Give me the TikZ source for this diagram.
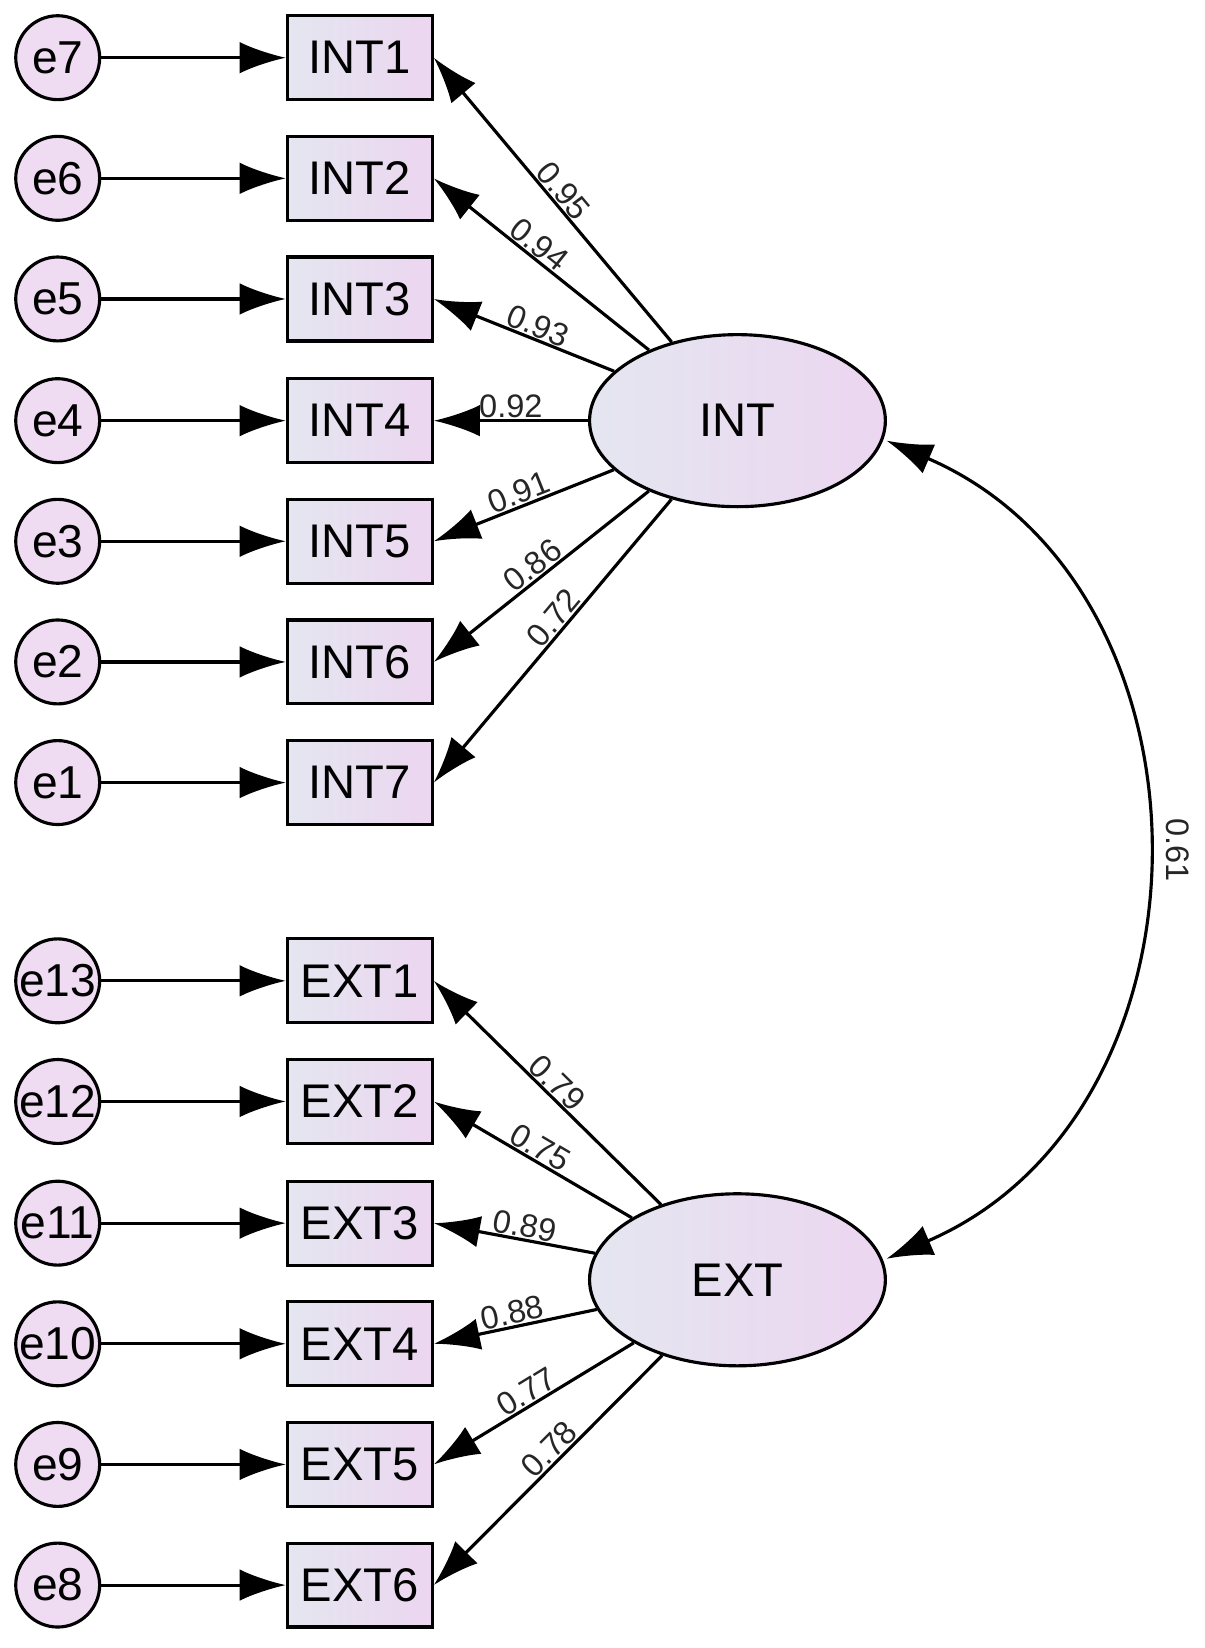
\documentclass[tikz,border=0pt]{standalone}
\usepackage{fontspec}
\setmainfont{Liberation Sans}
\usetikzlibrary{arrows.meta,shapes.geometric}
\definecolor{lgrey}{RGB}{228,230,240}
\definecolor{lvio}{RGB}{236,214,240}
\begin{document}
\begin{tikzpicture}[x=1pt,y=-1pt,
  err/.style={circle,draw,line width=3pt,fill=lvio!85!white,minimum size=80pt,inner sep=0pt,font=\fontsize{44}{46}\selectfont},
  obs/.style={rectangle,draw,line width=3pt,left color=lgrey,right color=lvio,minimum width=138pt,minimum height=80pt,inner sep=0pt,font=\fontsize{45}{47}\selectfont},
  lat/.style={ellipse,draw,line width=3pt,left color=lgrey,right color=lvio,minimum width=282pt,minimum height=164pt,inner sep=0pt,font=\fontsize{45}{47}\selectfont},
  arr/.style={line width=3pt,-{Latex[length=44pt,width=30pt]}},
  lab/.style={font=\fontsize{31}{33}\selectfont,text=black!85,sloped,above,inner sep=1pt}]
\useasboundingbox (0,0) rectangle (1148,1571);
\foreach \i/\y in {1/55,2/170,3/285,4/401,5/516,6/631,7/746}{
  \pgfmathtruncatemacro\e{8-\i}
  \node[obs] (INT\i) at (343,\y) {INT\i};
  \node[err] (e\e) at (55,\y) {e\e};
  \draw[arr] (e\e) -- (INT\i);
}
\foreach \i/\y in {1/935,2/1050,3/1166,4/1281,5/1396,6/1511}{
  \pgfmathtruncatemacro\e{14-\i}
  \node[obs] (EXT\i) at (343,\y) {EXT\i};
  \node[err] (e\e) at (55,\y) {e\e};
  \draw[arr] (e\e) -- (EXT\i);
}
\node[lat] (INT) at (703,401) {INT};
\node[lat] (EXT) at (703,1220) {EXT};
\foreach \i/\v/\p in {1/0.95/0.5,2/0.94/0.55,3/0.93/0.45,4/0.92/0.5,5/0.91/0.5,6/0.86/0.5,7/0.72/0.45}{
  \draw[arr] (INT) -- node[lab,pos=\p]{\v} (INT\i.east);
}
\foreach \i/\v/\p in {1/0.79/0.5,2/0.75/0.5,3/0.89/0.45,4/0.88/0.5,5/0.77/0.5,6/0.78/0.45}{
  \draw[arr] (EXT) -- node[lab,pos=\p]{\v} (EXT\i.east);
}
\coordinate (c1) at (845,420);
\coordinate (c2) at (845,1200);
\draw[line width=3pt,{Latex[length=44pt,width=30pt]}-{Latex[length=44pt,width=30pt]}] (c1) .. controls (1170,560) and (1170,1060) .. node[pos=0.5,right=18pt,rotate=-90,anchor=south,font=\fontsize{31}{33}\selectfont,text=black!85]{0.61} (c2);
\end{tikzpicture}
\end{document}
